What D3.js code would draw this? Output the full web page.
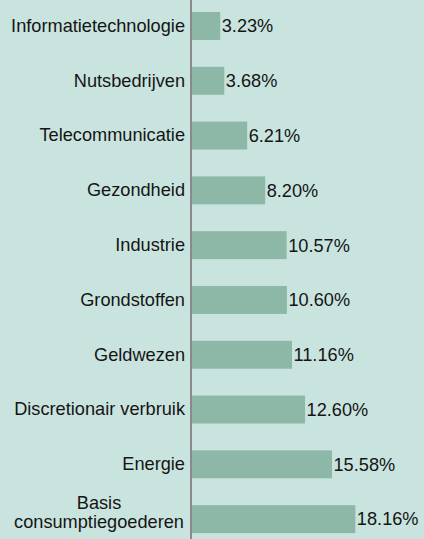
<!DOCTYPE html>
<html>
<head>
<meta charset="utf-8">
<script src="https://cdn.jsdelivr.net/npm/d3@7"></script>
<style>
  body { margin: 0; background: #c9e4df; }
  svg { display: block; }
</style>
</head>
<body>
<div id="chart"></div>
<script>
// sectoren en wegingen
const sectors = [
  "Informatietechnologie", "Nutsbedrijven", "Telecommunicatie", "Gezondheid",
  "Industrie", "Grondstoffen", "Geldwezen", "Discretionair verbruik",
  "Energie", "Basis consumptiegoederen"
];
const weights = [3.23, 3.68, 6.21, 8.20, 10.57, 10.60, 11.16, 12.60, 15.58, 18.16];

const data = sectors.map((s, i) => ({ sector: s, value: weights[i] }));

const width = 424, height = 539;
const axisX = 191;
const font = "'Liberation Sans', Arial, sans-serif";
const fontSize = "18.2px";

const svg = d3.select("#chart")
  .append("svg")
  .attr("width", width)
  .attr("height", height);

svg.append("rect")
  .attr("width", width)
  .attr("height", height)
  .attr("fill", "#c9e4df");

const x = d3.scaleLinear()
  .domain([0, 20])
  .range([axisX, axisX + 181]);

const y = d3.scaleBand()
  .domain(sectors)
  .range([-1.7, 546.8])
  .paddingInner(0.49)
  .paddingOuter(0.25);

// balken
svg.selectAll("rect.bar")
  .data(data)
  .enter().append("rect")
  .attr("class", "bar")
  .attr("x", x(0))
  .attr("y", d => y(d.sector))
  .attr("width", d => x(d.value) - x(0))
  .attr("height", y.bandwidth())
  .attr("fill", "#8db8a8");

// waardelabels
svg.selectAll("text.val")
  .data(data)
  .enter().append("text")
  .attr("class", "val")
  .attr("x", d => x(d.value) + 1.5)
  .attr("y", d => y(d.sector) + y.bandwidth() / 2)
  .attr("dy", "0.35em")
  .style("font-family", font)
  .style("font-size", fontSize)
  .style("fill", "#151515")
  .text(d => d.value.toFixed(2) + "%");

// y-as
const yAxis = svg.append("g")
  .attr("transform", "translate(" + axisX + ",0)")
  .call(d3.axisLeft(y).tickSize(0).tickPadding(6));

yAxis.select(".domain").remove();
svg.append("line")
  .attr("x1", axisX).attr("x2", axisX)
  .attr("y1", 0).attr("y2", height)
  .attr("stroke", "#8a8a8a")
  .attr("stroke-width", 2);

yAxis.selectAll("text")
  .style("font-family", font)
  .style("font-size", fontSize)
  .style("fill", "#151515");

// lange label over twee regels
yAxis.selectAll(".tick text")
  .filter(d => d === "Basis consumptiegoederen")
  .text(null)
  .attr("text-anchor", "middle")
  .attr("x", -92)
  .call(t => {
    t.append("tspan").attr("x", -92).attr("dy", -10).text("Basis");
    t.append("tspan").attr("x", -92).attr("dy", 19).text("consumptiegoederen");
  });
</script>
</body>
</html>
